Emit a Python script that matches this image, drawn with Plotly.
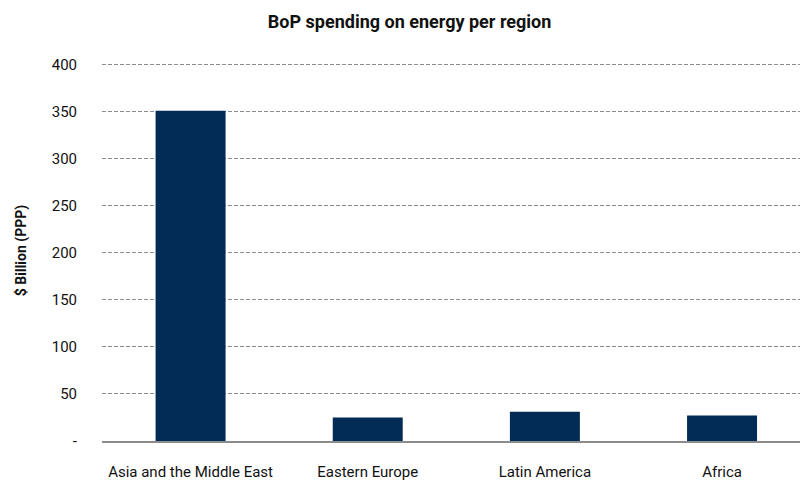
import plotly.graph_objects as go

# Balance-of-payments spending on energy, by region ($ billion, PPP)
regions = ["Asia and the Middle East", "Eastern Europe", "Latin America", "Africa"]
spending = [351, 25, 31, 27]

y_ticks = [0, 50, 100, 150, 200, 250, 300, 350, 400]
y_tick_text = ["-", "50", "100", "150", "200", "250", "300", "350", "400"]

bar_color = "#022b55"
font_family = "Roboto, DejaVu Sans, sans-serif"

fig = go.Figure(
    go.Bar(
        x=list(range(len(regions))),
        y=spending,
        width=0.395,
        marker=dict(color=bar_color, line=dict(width=0)),
        hovertext=regions,
    )
)

fig.update_layout(
    width=800,
    height=481,
    margin=dict(l=102, r=0, t=60, b=40),
    paper_bgcolor="white",
    plot_bgcolor="white",
    showlegend=False,
    font=dict(family=font_family, color="#111111", size=15),
    title=dict(
        text="<b>BoP spending on energy per region</b>",
        x=0.512,
        xanchor="center",
        y=0.955,
        yanchor="middle",
        font=dict(size=18, color="#111111", family=font_family),
    ),
)

fig.update_xaxes(
    range=[-0.5, 3.44],
    tickvals=list(range(len(regions))),
    ticktext=regions,
    showgrid=False,
    zeroline=False,
    showline=True,
    linecolor="#8c8c8c",
    linewidth=2,
    ticks="",
    ticklabelstandoff=16,
    tickfont=dict(size=15, color="#111111"),
    automargin=False,
)

fig.update_yaxes(
    range=[0, 405],
    tickvals=y_ticks,
    ticktext=y_tick_text,
    showgrid=True,
    gridcolor="#8c8c8c",
    griddash="4px,2px",
    gridwidth=1,
    zeroline=False,
    showline=False,
    ticks="",
    ticklabelstandoff=24,
    tickfont=dict(size=15, color="#111111"),
    title=dict(
        text="<b>$ Billion (PPP)</b>",
        font=dict(size=14, color="#111111"),
        standoff=21,
    ),
    automargin=False,
)

fig.write_html("out.html")
